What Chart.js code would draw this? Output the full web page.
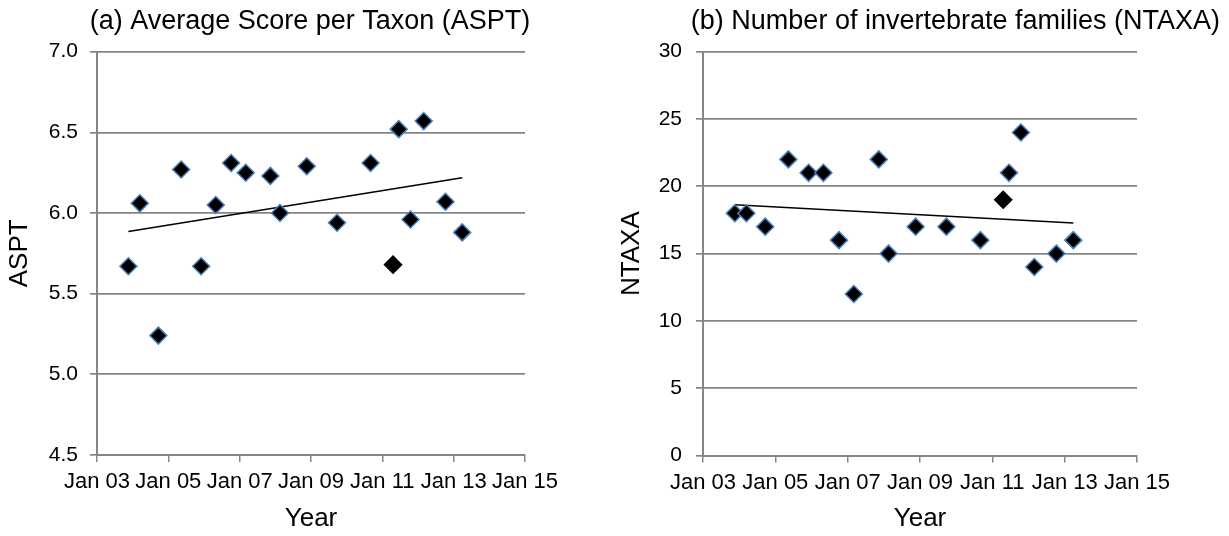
<!DOCTYPE html>
<html>
<head>
<meta charset="utf-8">
<script src="https://cdn.jsdelivr.net/npm/chart.js@4/dist/chart.umd.min.js"></script>
<style>
  body { margin: 0; background: #fff; }
  #wrap { position: relative; width: 1229px; height: 536px; overflow: hidden; }
  canvas { position: absolute; top: 0; }
  #aspt { left: 0; }
  #ntaxa { left: 600px; }
</style>
</head>
<body>
<div id="wrap">
  <canvas id="aspt" width="620" height="536"></canvas>
  <canvas id="ntaxa" width="620" height="536"></canvas>
</div>
<script>
// sampling dates as decimal years
const sampleYear = [2003.88, 2004.20, 2004.72, 2005.36, 2005.92, 2006.33, 2006.76, 2007.17, 2007.86, 2008.13,
                    2008.88, 2009.73, 2010.67, 2011.30, 2011.46, 2011.79, 2012.16, 2012.77, 2013.24]
const asptValues = [5.67, 6.06, 5.24, 6.27, 5.67, 6.05, 6.31, 6.25, 6.23, 6.00,
                    6.29, 5.94, 6.31, 5.68, 6.52, 5.96, 6.57, 6.07, 5.88]
const ntaxaValues = [18, 18, 17, 22, 21, 21, 16, 12, 22, 15,
                     17, 17, 16, 19, 21, 24, 14, 15, 16]
// the sample drawn without the blue outline
const plainSample = 13

const xTickYears = [2003, 2005, 2007, 2009, 2011, 2013, 2015]
const xTickLabels = ['Jan 03', 'Jan 05', 'Jan 07', 'Jan 09', 'Jan 11', 'Jan 13', 'Jan 15']

const FONT = "'Liberation Sans', Arial, sans-serif"
const GRID = '#858585'

// least squares line over all samples, from first to last date
function trend(xs, ys){
  let n = xs.length, mx = 0, my = 0
  for (let i = 0; i < n; i++){ mx += xs[i]; my += ys[i] }
  mx /= n; my /= n
  let sxy = 0, sxx = 0
  for (let i = 0; i < n; i++){
    sxy += (xs[i] - mx) * (ys[i] - my)
    sxx += (xs[i] - mx) * (xs[i] - mx)
  }
  let b = sxy / sxx, a = my - b * mx
  let x0 = Math.min(...xs), x1 = Math.max(...xs)
  return [{x: x0, y: a + b * x0}, {x: x1, y: a + b * x1}]
}

function panel(id, p){
  const points = sampleYear.map((x, i) => ({x: x, y: p.values[i]}))

  const data = {
    datasets: [{
      label: p.axisTitle,
      data: points,
      order: 1,
      pointStyle: 'rectRot',
      pointRadius: 8.5,
      pointBorderWidth: 1.5,
      pointBackgroundColor: '#000',
      pointBorderColor: ctx => ctx.dataIndex === plainSample ? '#000' : '#4a7ebb'
    }, {
      type: 'line',
      label: 'trend',
      data: trend(sampleYear, p.values),
      order: 2,
      borderColor: '#000',
      borderWidth: 1.5,
      pointRadius: 0,
      fill: false
    }]
  }

  const config = {
    type: 'scatter',
    data: data,
    options: {
      responsive: false,
      animation: false,
      layout: { padding: 0 },
      plugins: {
        legend: { display: false },
        tooltip: { enabled: false },
        title: {
          display: true,
          text: p.title,
          align: p.titleAlign,
          color: '#000',
          font: { family: FONT, size: 27, weight: 'normal' },
          padding: { top: 5, bottom: 14.3 }
        }
      },
      scales: {
        x: {
          type: 'linear',
          min: 2003,
          max: 2015,
          afterFit: s => { s.height = 536 - p.bottom },
          afterBuildTicks: s => { s.ticks = xTickYears.map(v => ({value: v})) },
          ticks: {
            color: '#000',
            font: { family: FONT, size: 22 },
            padding: 7,
            maxRotation: 0,
            autoSkip: false,
            callback: v => xTickLabels[xTickYears.indexOf(v)]
          },
          grid: { drawOnChartArea: false, color: GRID, lineWidth: 1.5, tickLength: 7 },
          border: { color: GRID, width: 2 },
          title: {
            display: true,
            text: 'Year',
            color: '#000',
            font: { family: FONT, size: 26 },
            padding: { top: 0, bottom: 2 }
          }
        },
        y: {
          min: p.min,
          max: p.max,
          afterFit: s => { s.width = p.left },
          ticks: {
            stepSize: p.step,
            color: '#000',
            font: { family: FONT, size: 21 },
            padding: p.tickPad,
            callback: p.format
          },
          grid: { color: GRID, lineWidth: 1.7, tickLength: 7 },
          border: { color: GRID, width: 2 },
          title: {
            display: true,
            text: p.axisTitle,
            color: '#000',
            font: { family: FONT, size: 26 },
            padding: { top: p.titlePad, bottom: 0 }
          }
        },
        // empty space to the right of the plot
        side: {
          position: 'right',
          afterFit: s => { s.width = p.right },
          ticks: { display: false },
          grid: { display: false },
          border: { display: false }
        }
      }
    }
  }

  return new Chart(document.getElementById(id), config)
}

panel('aspt', {
  title: '(a) Average Score per Taxon (ASPT)',
  titleAlign: 'center',
  axisTitle: 'ASPT',
  values: asptValues,
  min: 4.5, max: 7.0, step: 0.5,
  format: v => v.toFixed(1),
  left: 97, right: 95, bottom: 455, tickPad: 12, titlePad: 4
})

panel('ntaxa', {
  title: '(b) Number of invertebrate families (NTAXA)',
  titleAlign: 'end',
  axisTitle: 'NTAXA',
  values: ntaxaValues,
  min: 0, max: 30, step: 5,
  format: v => v,
  left: 103, right: 83, bottom: 455.5, tickPad: 14, titlePad: 16
})
</script>
</body>
</html>
